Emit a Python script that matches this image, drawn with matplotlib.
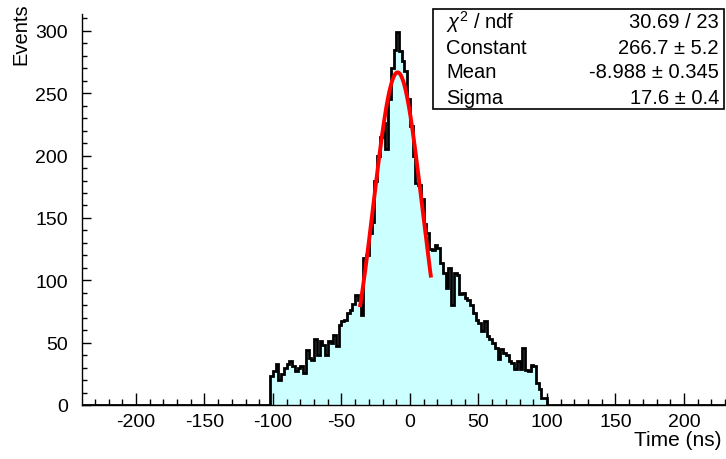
import numpy as np
import matplotlib
matplotlib.use("Agg")
import matplotlib.pyplot as plt
from matplotlib.patches import Rectangle
from matplotlib.ticker import MultipleLocator

plt.rcParams["font.family"] = ["Liberation Sans", "DejaVu Sans"]
plt.rcParams["mathtext.fontset"] = "custom"
plt.rcParams["mathtext.rm"] = "Liberation Sans"
plt.rcParams["mathtext.it"] = "Liberation Sans:italic"

# histogram: 2 ns bins from -102 to 100 ns
bin_lo = -102
bin_width = 2
counts = [
    23, 27, 33, 20, 25, 30, 33, 35, 31, 27,      # -102 .. -82
    30, 31, 26, 44, 38, 36, 53, 40, 51, 48,      # -82 .. -62
    40, 51, 50, 56, 47, 64, 67, 68, 74, 76,      # -62 .. -42
    81, 88, 84, 72, 118, 120, 138, 147, 180, 200,  # -42 .. -22
    215, 226, 205, 245, 270, 285, 299, 284, 276, 268,  # -22 .. -2
    245, 224, 200, 178, 176, 165, 145, 138, 125, 124,  # -2 .. 18
    128, 126, 114, 106, 94, 110, 80, 106, 104, 89,   # 18 .. 38
    90, 86, 84, 80, 74, 68, 66, 59, 67, 55,          # 38 .. 58
    53, 50, 46, 37, 45, 42, 40, 35, 34, 29,          # 58 .. 78
    35, 29, 46, 28, 27, 32, 31, 18, 13, 6,           # 78 .. 98
    6,                                               # 98 .. 100
]

# gaussian fit result
fit_const = 266.7
fit_mean = -8.988
fit_sigma = 17.6
fit_range = (-36.3, 15.2)

stat_names = [r"$\chi^{2}$ / ndf", "Constant", "Mean", "Sigma"]
stat_values = ["30.69 / 23", "266.7 \u00b1 5.2", "-8.988 \u00b1 0.345", "17.6 \u00b1 0.4"]

x_min, x_max = -239.4, 230.7
y_max = 313.5

edges = bin_lo + bin_width * np.arange(len(counts) + 1)
full_edges = np.concatenate([[x_min], edges, [x_max]])
full_counts = np.concatenate([[0], counts, [0]])

fig = plt.figure(figsize=(7.26, 4.6), dpi=100)
ax = fig.add_axes([82 / 726, 54 / 460, 644 / 726, 391 / 460])

ax.stairs(full_counts, full_edges, fill=True, color="#ccffff", lw=0)
ax.stairs(full_counts, full_edges, color="black", lw=2.0)

xf = np.linspace(fit_range[0], fit_range[1], 200)
yf = fit_const * np.exp(-0.5 * ((xf - fit_mean) / fit_sigma) ** 2)
ax.plot(xf, yf, color="red", lw=2.8)

ax.set_xlim(x_min, x_max)
ax.set_ylim(0, y_max)

ax.spines["top"].set_visible(False)
ax.spines["right"].set_visible(False)
for s in ["left", "bottom"]:
    ax.spines[s].set_linewidth(1.0)

ax.xaxis.set_major_locator(MultipleLocator(50))
ax.xaxis.set_minor_locator(MultipleLocator(10))
ax.yaxis.set_major_locator(MultipleLocator(50))
ax.yaxis.set_minor_locator(MultipleLocator(10))
ax.tick_params(axis="x", which="major", direction="in", length=8.5, width=1, labelsize=14, pad=6)
ax.tick_params(axis="x", which="minor", direction="in", length=4.3, width=1)
ax.tick_params(axis="y", which="major", direction="in", length=6.5, width=1, labelsize=14, pad=10)
ax.tick_params(axis="y", which="minor", direction="in", length=3.3, width=1)
ax.set_xticks(np.arange(-200, 201, 50))
ax.set_xticklabels([str(v) for v in np.arange(-200, 201, 50)])

fig.text(722 / 726, 1 - 441 / 460, "Time (ns)", ha="right", va="center", fontsize=15)
fig.text(21 / 726, 1 - 3 / 460, "Events", ha="center", va="top", rotation=90, fontsize=14.5)

# stats box
fig.patches.append(Rectangle((433 / 726, 1 - 110 / 460), 291 / 726, 100 / 460,
                             transform=fig.transFigure, facecolor="white",
                             edgecolor="black", lw=1.2, zorder=5))
row_y = [22, 48, 73, 98]
for name, val, yy in zip(stat_names, stat_values, row_y):
    fig.text(446 / 726, 1 - yy / 460, name, ha="left", va="center", fontsize=14.5, zorder=6)
    fig.text(719 / 726, 1 - yy / 460, val, ha="right", va="center", fontsize=14.5, zorder=6)

fig.savefig("out.png", dpi=100)
